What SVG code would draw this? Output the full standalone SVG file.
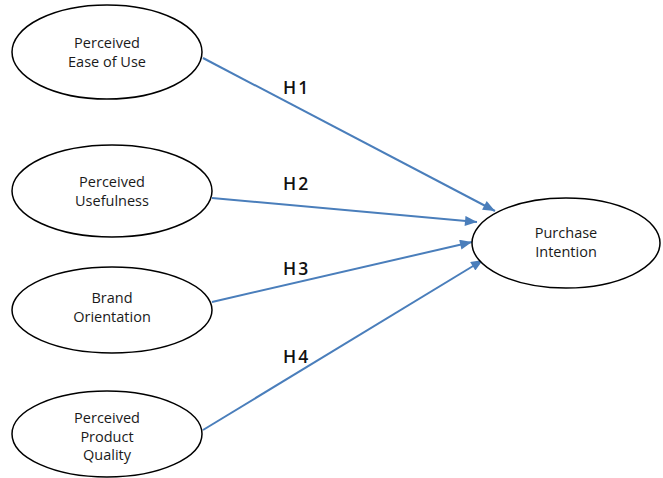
<svg xmlns="http://www.w3.org/2000/svg" width="663" height="478" viewBox="0 0 663 478">
<style>
.node ellipse{fill:#fff;stroke:#000;stroke-width:1.5}
.node text{font-family:"Open Sans","Liberation Sans",sans-serif;font-size:14.5px;fill:#1a1a1a;text-anchor:middle}
.edges line{stroke:#4a7ebb;stroke-width:2}
.lbl{font-family:"Open Sans","Liberation Sans",sans-serif;font-size:17.5px;font-weight:600;fill:#111;letter-spacing:2px}
</style>
<defs>
<marker id="ah" viewBox="0 0 12 10" refX="12" refY="5" markerWidth="13" markerHeight="10" markerUnits="userSpaceOnUse" orient="auto"><path d="M0,0 L12,5 L0,10 z" fill="#4a7ebb"/></marker>
</defs>
<rect width="663" height="478" fill="#fff"/>
<g class="edges">
<line x1="203" y1="58" x2="495" y2="211" marker-end="url(#ah)"/>
<line x1="212" y1="198" x2="477" y2="222" marker-end="url(#ah)"/>
<line x1="212" y1="302" x2="472" y2="242" marker-end="url(#ah)"/>
<line x1="203" y1="430" x2="483" y2="260" marker-end="url(#ah)"/>
<text class="lbl" x="283" y="94">H1</text>
<text class="lbl" x="283" y="190">H2</text>
<text class="lbl" x="283" y="275">H3</text>
<text class="lbl" x="283" y="363">H4</text>
</g>
<g id="peou" class="node"><ellipse cx="107" cy="52" rx="95" ry="47"/><text x="107" y="48">Perceived</text><text x="107" y="67">Ease of Use</text></g>
<g id="pu" class="node"><ellipse cx="112" cy="191" rx="100" ry="46"/><text x="112" y="187">Perceived</text><text x="112" y="206">Usefulness</text></g>
<g id="bo" class="node"><ellipse cx="112" cy="310" rx="100" ry="43"/><text x="112" y="303">Brand</text><text x="112" y="322">Orientation</text></g>
<g id="ppq" class="node"><ellipse cx="107" cy="434" rx="95" ry="43"/><text x="107" y="423">Perceived</text><text x="107" y="442">Product</text><text x="107" y="460">Quality</text></g>
<g id="pi" class="node"><ellipse cx="566" cy="243" rx="94" ry="45"/><text x="566" y="238">Purchase</text><text x="566" y="257">Intention</text></g>
</svg>
